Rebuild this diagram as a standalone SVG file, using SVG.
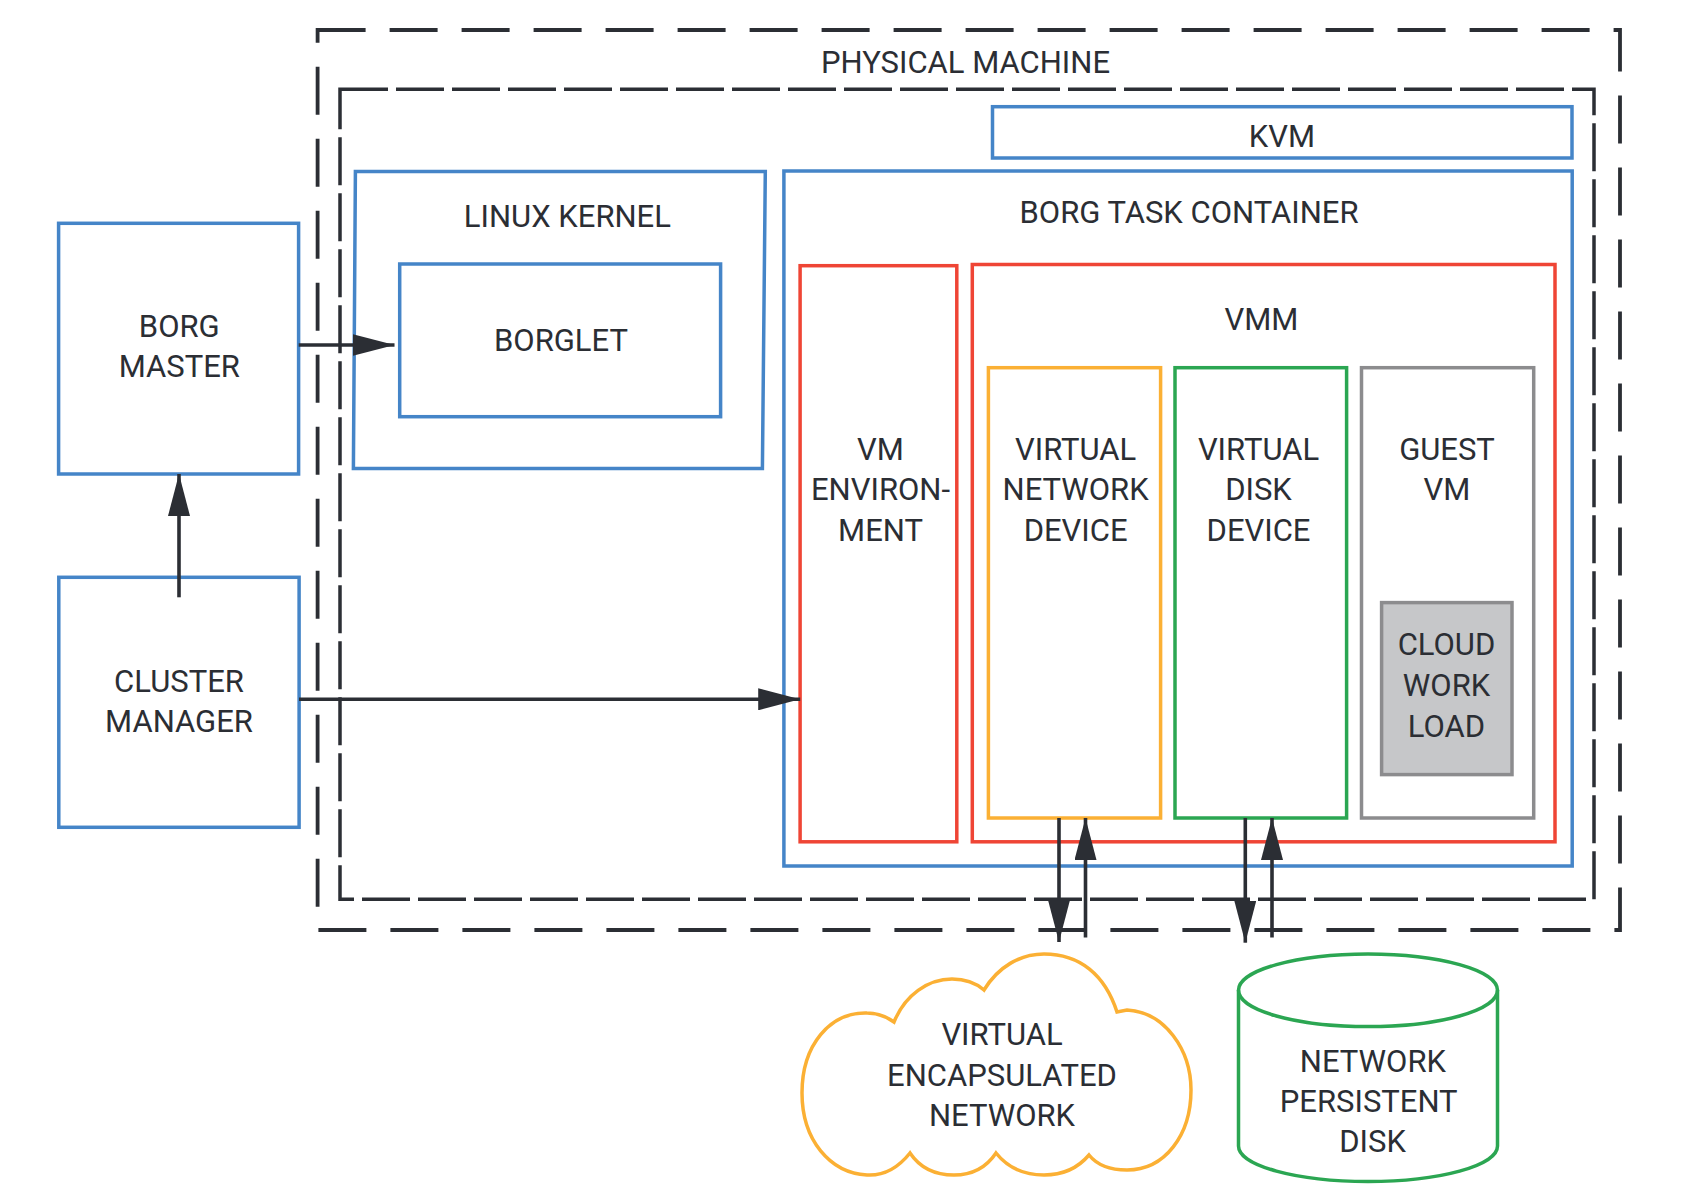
<svg xmlns="http://www.w3.org/2000/svg" width="1682" height="1197" viewBox="0 0 1682 1197">
<style>
  text { font-family: Roboto, "Liberation Sans", Arial, sans-serif; font-size: 31px; fill: #2b2e34; text-anchor: middle; }
  .blue { fill: none; stroke: #4585c8; stroke-width: 3.5; }
  .red { fill: none; stroke: #ef4535; stroke-width: 3.5; }
  .orange { fill: none; stroke: #fbb034; stroke-width: 3.5; }
  .green { fill: none; stroke: #2ba652; stroke-width: 3.5; }
  .gray { fill: none; stroke: #8c8c8e; stroke-width: 3.5; }
  .outer { fill: none; stroke: #2b2e34; stroke-width: 3.8; stroke-dasharray: 48 24; }
  .inner { fill: none; stroke: #2b2e34; stroke-width: 3.5; stroke-dasharray: 48 8; }
  .conn { fill: none; stroke: #2b2e34; stroke-width: 3.6; marker-end: url(#arrow); }
</style>
<defs>
  <marker id="arrow" viewBox="0 0 42 22" markerWidth="42" markerHeight="22" refX="42" refY="11" orient="auto" markerUnits="userSpaceOnUse">
    <path d="M0,0 L42,11 L0,22 Z" fill="#2b2e34"/>
  </marker>
</defs>
<rect width="1682" height="1197" fill="#ffffff"/>

<g id="physical-machine">
  <rect class="outer" x="317.6" y="30" width="1302.4" height="900"/>
  <text x="965.5" y="73">PHYSICAL MACHINE</text>
</g>
<g id="host-boundary">
  <rect class="inner" x="340" y="89.3" width="1254" height="810"/>
</g>

<g id="kvm">
  <rect class="blue" x="992.5" y="106.7" width="579.5" height="51.3"/>
  <text x="1282" y="146.5">KVM</text>
</g>

<g id="linux-kernel">
  <polygon class="blue" points="355.4,171.5 765.3,171.5 762.4,468.5 353.4,468.5"/>
  <text x="567.4" y="226.7">LINUX KERNEL</text>
</g>
<g id="borglet">
  <rect class="blue" x="399.7" y="264" width="320.9" height="152.7"/>
  <text x="561" y="350.7">BORGLET</text>
</g>

<g id="borg-master">
  <rect class="blue" x="58.6" y="223.3" width="240" height="250.7"/>
  <text x="179.3" y="336.7">BORG</text>
  <text x="179.3" y="377.3">MASTER</text>
</g>
<g id="cluster-manager">
  <rect class="blue" x="58.8" y="577.3" width="240.3" height="250"/>
  <text x="179" y="691.7">CLUSTER</text>
  <text x="179" y="732.3">MANAGER</text>
</g>

<g id="borg-task-container">
  <rect class="blue" x="783.9" y="171" width="788.3" height="695"/>
  <text x="1189" y="223.3">BORG TASK CONTAINER</text>
</g>
<g id="vm-environment">
  <rect class="red" x="800.1" y="265.7" width="156.7" height="576.1"/>
  <text x="880.5" y="459.5">VM</text>
  <text x="880.5" y="500.3">ENVIRON-</text>
  <text x="880.5" y="541.1">MENT</text>
</g>
<g id="vmm">
  <rect class="red" x="972.3" y="264.5" width="582.7" height="577.3"/>
  <text x="1261.4" y="329.8">VMM</text>
</g>
<g id="virtual-network-device">
  <rect class="orange" x="988.4" y="367.7" width="172.2" height="450.3"/>
  <text x="1075.6" y="459.5">VIRTUAL</text>
  <text x="1075.6" y="500.3">NETWORK</text>
  <text x="1075.6" y="541.1">DEVICE</text>
</g>
<g id="virtual-disk-device">
  <rect class="green" x="1175" y="367.7" width="171.6" height="450.3"/>
  <text x="1258.5" y="459.5">VIRTUAL</text>
  <text x="1258.5" y="500.3">DISK</text>
  <text x="1258.5" y="541.1">DEVICE</text>
</g>
<g id="guest-vm">
  <rect class="gray" x="1361.5" y="367.7" width="172.2" height="450.3"/>
  <text x="1447" y="459.5">GUEST</text>
  <text x="1447" y="500.3">VM</text>
</g>
<g id="cloud-workload">
  <rect x="1381.6" y="602.6" width="130.4" height="172" fill="#c6c7c9" stroke="#8c8c8e" stroke-width="3.5"/>
  <text x="1446.5" y="655.2">CLOUD</text>
  <text x="1446.5" y="696.2">WORK</text>
  <text x="1446.5" y="737.2">LOAD</text>
</g>

<g id="virtual-encapsulated-network">
  <path class="orange" d="M910,1153 C898,1168 884,1176 867,1175 C830,1173 802,1140 802,1093 C802,1045 830,1012 867,1013 C878,1013 887,1017 894,1022 C905,995 928,979 952,979 C965,979 976,983 984,990 C998,967 1020,954 1044,954 C1080,954 1105,975 1117,1012 L1127,1010 C1165,1012 1191,1050 1191,1090 C1191,1135 1165,1170 1127,1170 C1110,1170 1097,1165 1089,1155 C1078,1168 1062,1175 1044,1175 C1025,1175 1008,1168 996,1153 C986,1168 971,1175 954,1175 C936,1175 920,1168 910,1153 Z"/>
  <text x="1002" y="1045">VIRTUAL</text>
  <text x="1002" y="1085.7">ENCAPSULATED</text>
  <text x="1002" y="1126">NETWORK</text>
</g>

<g id="network-persistent-disk">
  <path class="green" d="M1238.5,990 L1238.5,1146 A129.5,35.5 0 0 0 1497.5,1146 L1497.5,990"/>
  <ellipse class="green" cx="1368" cy="990.3" rx="129.5" ry="36.3"/>
  <text x="1372.9" y="1071.7">NETWORK</text>
  <text x="1368.7" y="1111.7">PERSISTENT</text>
  <text x="1372.6" y="1152.3">DISK</text>
</g>

<g id="connectors">
  <line class="conn" x1="298.7" y1="345" x2="394.5" y2="345"/>
  <line class="conn" x1="179" y1="597.3" x2="179" y2="474"/>
  <line class="conn" x1="299" y1="699.3" x2="800.2" y2="699.3"/>
  <line class="conn" x1="1059" y1="818" x2="1059" y2="942"/>
  <line class="conn" x1="1085.5" y1="937.5" x2="1085.5" y2="818"/>
  <line class="conn" x1="1245.3" y1="818" x2="1245.3" y2="942.7"/>
  <line class="conn" x1="1272" y1="937.5" x2="1272" y2="818"/>
</g>
</svg>
